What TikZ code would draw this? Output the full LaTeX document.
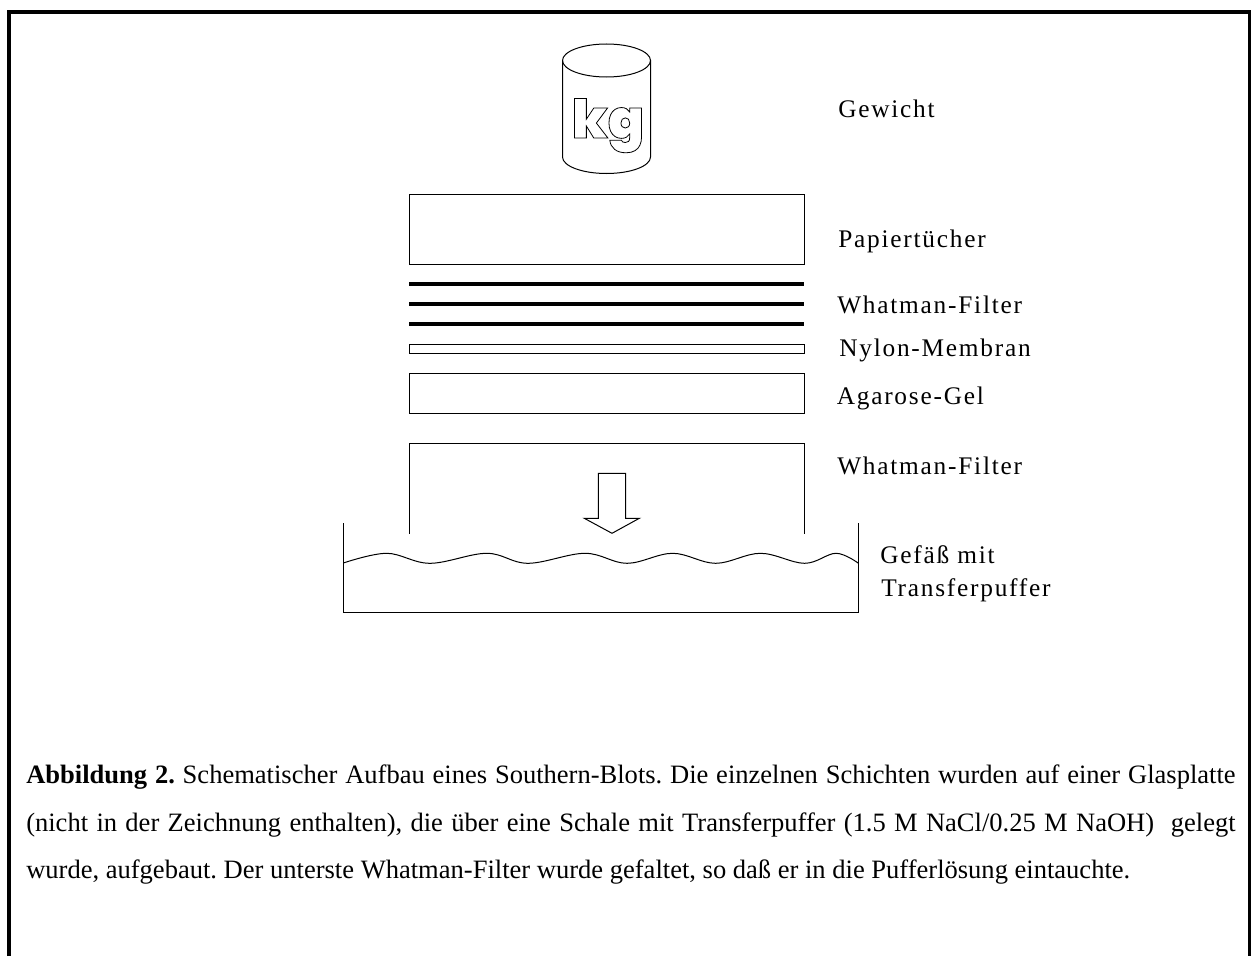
\documentclass[tikz,border=0pt]{standalone}
\usepackage{fontspec}
\setmainfont{Liberation Serif}
\newfontfamily\labelfont[LetterSpace=7]{Liberation Serif}
\newfontfamily\weightfont{Poppins Black}
\usetikzlibrary{positioning}
\tikzset{
    layer/.style={draw, line width=0.75pt},
    filter/.style={line width=3pt},
    tag/.style={anchor=base west, inner sep=0pt, font=\fontsize{19}{22}\labelfont},
}
\begin{document}
\begin{tikzpicture}[x=0.75pt, y=-0.75pt]
    \useasboundingbox (0,0) rectangle (1251,956);
    % frame, open at the bottom
    \draw[line width=3pt] (9,956) -- (9,12) -- (1250,12) -- (1250,956);
    % weight
    \draw[layer] (562.5,60.5) arc[start angle=180, end angle=540, x radius=44, y radius=16.5];
    \draw[layer] (562.5,60.5) -- (562.5,157) arc[start angle=180, end angle=0, x radius=44, y radius=16.5] -- (650.5,60.5);
    \node[anchor=base, inner sep=0pt, font=\fontsize{40}{50}\weightfont] (kg) at (608,138)
        {\special{pdf:code 1 Tr 0.6 w}kg\special{pdf:code 0 Tr}};
    % stack
    \draw[layer] (409,194.5) rectangle (804,264.5);
    \foreach \y in {284,304,324} {
        \draw[filter] (409,\y) -- (804,\y);
    }
    \draw[layer] (409.5,344.5) rectangle (804,353.5);
    \draw[layer] (409.5,373.5) rectangle (804,413.5);
    \draw[layer] (409.5,533.5) -- (409.5,443.5) -- (804.5,443.5) -- (804.5,533.5);
    % flow arrow
    \draw[layer] (598.3,473.3) -- (625.7,473.3) -- (625.7,518.3) -- (639.3,518.3) -- (612,533.3) -- (584.3,518.3) -- (598.3,518.3) -- cycle;
    % tray with buffer
    \draw[layer] (343.5,523) -- (343.5,612.5) -- (858.5,612.5) -- (858.5,523);
    \draw[line width=0.75pt] plot[smooth, tension=0.6] coordinates
        {(343.3,563) (386.7,553.3) (430,563.3) (486.7,553.3) (528,563.3) (585,553.3) (627,563.3) (672.6,553.3) (715.7,563.3) (760.4,553.3) (804.5,563.3) (836,553.3) (858.5,563.3)};
    % labels
    \node[tag] (gewicht) at (838,117) {Gewicht};
    \node[tag] (papier) at (838,247) {Papiertücher};
    \node[tag] (whatmanA) at (837,313) {Whatman-Filter};
    \node[tag] (nylon) at (839,356) {Nylon-Membran};
    \node[tag] (agarose) at (836.5,404) {Agarose-Gel};
    \node[tag] (whatmanB) at (837,474) {Whatman-Filter};
    \node[tag] (gefaess) at (880,563) {Gefäß mit};
    \node[tag] (puffer) at (881,596) {Transferpuffer};
    % caption
    \node[anchor=north west, inner sep=0pt, text width=907pt, align=justify, font=\fontsize{19.9}{35.6}\selectfont\frenchspacing] (caption) at (26,765)
        {\textbf{Abbildung 2.} Schematischer Aufbau eines Southern-Blots. Die einzelnen Schichten wurden auf einer Glasplatte\linebreak
        (nicht in der Zeichnung enthalten), die über eine Schale mit Transferpuffer (1.5 M NaCl/0.25 M NaOH) \ gelegt\linebreak
        wurde, aufgebaut. Der unterste Whatman-Filter wurde gefaltet, so daß er in die Pufferlösung eintauchte.};
\end{tikzpicture}
\end{document}
